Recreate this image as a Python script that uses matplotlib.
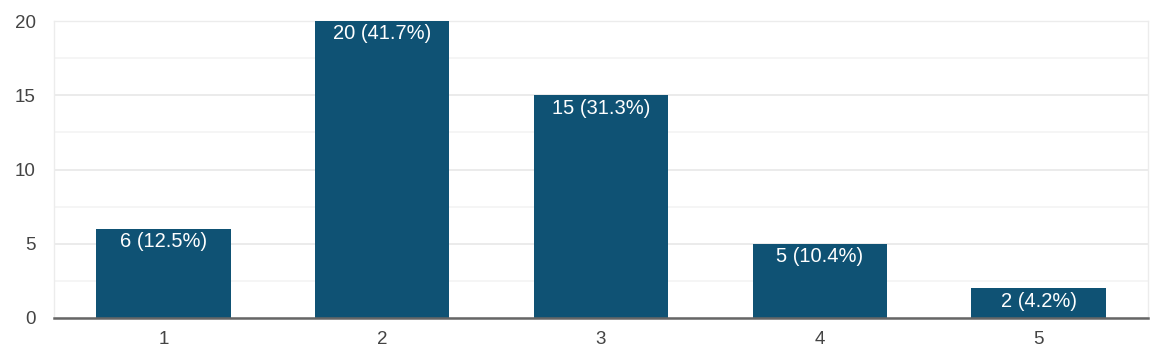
import matplotlib
matplotlib.use("Agg")
import matplotlib.pyplot as plt
from matplotlib.ticker import MultipleLocator

categories = ["1", "2", "3", "4", "5"]
counts = [6, 20, 15, 5, 2]
labels = ["6 (12.5%)", "20 (41.7%)", "15 (31.3%)", "5 (10.4%)", "2 (4.2%)"]
y_ticks = [0, 5, 10, 15, 20]

plt.rcParams['font.family'] = ['Liberation Sans', 'DejaVu Sans']

W, H = 1157, 354
fig = plt.figure(figsize=(W / 100, H / 100), dpi=100)
ax = fig.add_axes([54 / W, (H - 318) / H, (1148 - 54) / W, (318 - 21) / H])

x = list(range(1, len(categories) + 1))
bars = ax.bar(x, counts, width=0.615, color="#0f5274", zorder=3)

ax.set_xlim(0.5, len(categories) + 0.5)
ax.set_ylim(0, 20)
ax.set_yticks(y_ticks)
ax.yaxis.set_minor_locator(MultipleLocator(2.5))
ax.set_xticks(x)
ax.set_xticklabels(categories)

ax.grid(axis="y", which="major", color="#e8e8e8", linewidth=1.2, zorder=0)
ax.grid(axis="y", which="minor", color="#f3f3f3", linewidth=1.2, zorder=0)

for side in ["top", "right", "left"]:
    ax.spines[side].set_color("#ececec")
    ax.spines[side].set_linewidth(1.0)
ax.spines["bottom"].set_color("#666666")
ax.spines["bottom"].set_linewidth(1.8)
ax.spines["bottom"].set_zorder(4)

ax.tick_params(axis="both", which="both", length=0, labelsize=13.5, colors="#444444")
ax.tick_params(axis="y", pad=13)
ax.tick_params(axis="x", pad=9)

for rect, lab in zip(bars, labels):
    ax.annotate(lab, xy=(rect.get_x() + rect.get_width() / 2, rect.get_height()),
                xytext=(0, -2.5), textcoords="offset points",
                ha="center", va="top", color="white", fontsize=14.5, zorder=5)

fig.savefig("out.png", dpi=100)
